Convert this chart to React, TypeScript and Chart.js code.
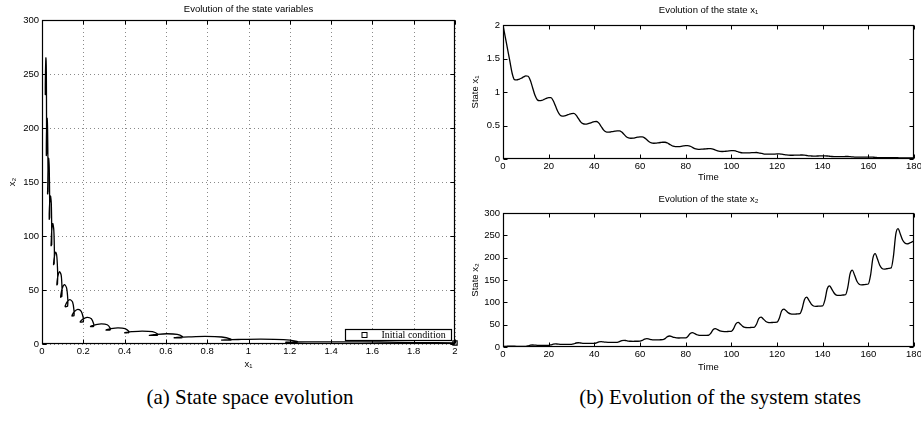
import React, { useEffect, useRef } from 'react';
import { Chart, registerables } from 'chart.js';

Chart.register(...registerables);

// ---------------- data (sampled once per time unit, t = 0 … 180) ----------------
const x1Values: number[] = [
  2.0, 1.82, 1.64, 1.46, 1.28, 1.185, 1.18, 1.19, 1.205, 1.225, 1.24,
  1.235, 1.17, 1.06, 0.95, 0.885, 0.87, 0.875, 0.89, 0.905, 0.915,
  0.915, 0.87, 0.79, 0.71, 0.655, 0.64, 0.645, 0.655, 0.668, 0.678,
  0.68, 0.655, 0.605, 0.555, 0.527, 0.52, 0.523, 0.535, 0.548, 0.558,
  0.56, 0.535, 0.485, 0.435, 0.407, 0.40, 0.403, 0.41, 0.416, 0.42,
  0.42, 0.402, 0.367, 0.333, 0.314, 0.31, 0.312, 0.318, 0.325, 0.33,
  0.33, 0.316, 0.287, 0.258, 0.24, 0.235, 0.236, 0.241, 0.246, 0.25,
  0.25, 0.239, 0.218, 0.198, 0.188, 0.185, 0.186, 0.19, 0.196, 0.20,
  0.20, 0.19, 0.173, 0.156, 0.148, 0.145, 0.146, 0.149, 0.152, 0.155,
  0.155, 0.148, 0.134, 0.121, 0.114, 0.112, 0.113, 0.117, 0.121, 0.124,
  0.125, 0.119, 0.108, 0.097, 0.092, 0.09, 0.09, 0.092, 0.094, 0.096,
  0.097, 0.093, 0.085, 0.077, 0.073, 0.072, 0.072, 0.073, 0.074, 0.075,
  0.076, 0.072, 0.066, 0.06, 0.057, 0.056, 0.056, 0.057, 0.058, 0.059,
  0.06, 0.057, 0.052, 0.047, 0.045, 0.044, 0.044, 0.045, 0.046, 0.047,
  0.047, 0.045, 0.041, 0.037, 0.035, 0.035, 0.035, 0.036, 0.036, 0.037,
  0.037, 0.035, 0.032, 0.029, 0.028, 0.027, 0.027, 0.028, 0.028, 0.029,
  0.029, 0.027, 0.025, 0.022, 0.021, 0.021, 0.021, 0.021, 0.022, 0.022,
  0.022, 0.021, 0.019, 0.017, 0.016, 0.016, 0.016, 0.016, 0.017, 0.017,
];

const x2Values: number[] = [
  1.0, 1.3, 1.85, 2.0, 1.9, 1.72, 1.6, 1.58, 1.58, 1.59, 1.6,
  2.47, 4.07, 4.5, 4.17, 3.79, 3.6, 3.55, 3.56, 3.58, 3.6,
  4.62, 6.49, 7.0, 6.55, 6.04, 5.78, 5.72, 5.73, 5.77, 5.8,
  6.91, 8.95, 9.5, 8.94, 8.3, 7.97, 7.9, 7.92, 7.96, 8.0,
  9.2, 11.4, 12.0, 11.42, 10.76, 10.42, 10.35, 10.38, 10.44, 10.5,
  11.85, 14.33, 15.0, 14.23, 13.35, 12.88, 12.8, 12.84, 12.92, 13.0,
  14.71, 17.85, 18.7, 17.77, 16.71, 16.15, 16.05, 16.1, 16.2, 16.3,
  18.79, 23.36, 24.6, 23.06, 21.3, 20.35, 20.2, 20.27, 20.4, 20.5,
  23.95, 30.28, 32.0, 29.87, 27.43, 26.1, 25.9, 26.0, 26.15, 26.3,
  30.71, 38.8, 41.0, 38.73, 36.13, 34.8, 34.5, 34.6, 34.8, 35.0,
  41.0, 52.0, 55.0, 50.9, 46.2, 43.7, 43.3, 43.5, 43.8, 44.0,
  50.9, 63.55, 67.0, 62.7, 57.8, 55.2, 54.7, 54.9, 55.2, 55.5,
  64.35, 80.6, 85.0, 81.0, 76.4, 74.0, 73.5, 73.7, 74.1, 74.5,
  85.6, 106.0, 111.5, 104.3, 96.1, 91.8, 91.0, 91.3, 91.7, 92.0,
  105.5, 130.25, 137.0, 129.5, 120.9, 116.3, 115.5, 115.8, 116.4, 117.0,
  133.5, 163.75, 172.0, 160.5, 147.25, 140.5, 139.0, 139.5, 140.3, 141.0,
  161.4, 198.8, 209.0, 196.9, 183.1, 176.0, 174.5, 175.2, 176.2, 177.0,
  203.4, 251.8, 265.0, 253.1, 239.5, 233.0, 231.0, 232.5, 235.0, 237.0,
];

const timeValues: number[] = x1Values.map((_, i) => i);

const titles = {
  phase: 'Evolution of the state variables',
  x1: 'Evolution of the state x\u2081',
  x2: 'Evolution of the state x\u2082',
};
const legendLabel = 'Initial condition';
const captions = ['(a) State space evolution', '(b) Evolution of the system states'];

// ---------------- styling helpers ----------------
const SANS = "'Liberation Sans', Arial, Helvetica, sans-serif";
const SERIF = "'Liberation Serif', 'Times New Roman', serif";
const FS = 9.5;

const matlabPlugin = {
  id: 'matlabBox',
  beforeDatasetsDraw(chart: any, _args: any, opts: any) {
    if (!opts || !opts.grid) return;
    const { ctx, chartArea: a, scales } = chart;
    ctx.save();
    ctx.strokeStyle = '#8a8a8a';
    ctx.lineWidth = 1;
    ctx.setLineDash([1, 3]);
    for (const t of scales.x.ticks) {
      const px = Math.round(scales.x.getPixelForValue(t.value)) + 0.5;
      ctx.beginPath();
      ctx.moveTo(px, a.top);
      ctx.lineTo(px, a.bottom);
      ctx.stroke();
    }
    for (const t of scales.y.ticks) {
      const py = Math.round(scales.y.getPixelForValue(t.value)) + 0.5;
      ctx.beginPath();
      ctx.moveTo(a.left, py);
      ctx.lineTo(a.right, py);
      ctx.stroke();
    }
    ctx.restore();
  },
  afterDatasetsDraw(chart: any) {
    const { ctx, chartArea: a, scales } = chart;
    const L = Math.round(a.left) + 0.5;
    const R = Math.round(a.right) - 0.5;
    const T = Math.round(a.top) + 0.5;
    const B = Math.round(a.bottom) - 0.5;
    const tl = 4;
    ctx.save();
    ctx.setLineDash([]);
    ctx.strokeStyle = '#000';
    ctx.lineWidth = 1;
    ctx.beginPath();
    for (const t of scales.x.ticks) {
      const px = Math.round(scales.x.getPixelForValue(t.value)) + 0.5;
      ctx.moveTo(px, B);
      ctx.lineTo(px, B - tl);
      ctx.moveTo(px, T);
      ctx.lineTo(px, T + tl);
    }
    for (const t of scales.y.ticks) {
      const py = Math.round(scales.y.getPixelForValue(t.value)) + 0.5;
      ctx.moveTo(L, py);
      ctx.lineTo(L + tl, py);
      ctx.moveTo(R, py);
      ctx.lineTo(R - tl, py);
    }
    ctx.stroke();
    ctx.lineWidth = 1.2;
    ctx.strokeRect(L, T, R - L, B - T);
    ctx.restore();
  },
  afterDraw(chart: any, _args: any, opts: any) {
    if (!opts || !opts.legend) return;
    const { ctx, chartArea: a } = chart;
    const w = 106;
    const h = 11;
    const lx = Math.round(a.right) - 110 + 0.5;
    const ly = Math.round(a.bottom) - 15 + 0.5;
    ctx.save();
    ctx.fillStyle = '#fff';
    ctx.fillRect(lx, ly, w, h);
    ctx.strokeStyle = '#000';
    ctx.lineWidth = 1.2;
    ctx.strokeRect(lx, ly, w, h);
    ctx.lineWidth = 1;
    ctx.strokeRect(lx + 16.5, ly + 3, 5, 5);
    ctx.fillStyle = '#000';
    ctx.font = `10px ${SERIF}`;
    ctx.textBaseline = 'middle';
    ctx.textAlign = 'left';
    ctx.fillText(opts.legend, lx + 36, ly + h / 2 + 0.5);
    ctx.restore();
  },
};

function tickFont() {
  return { family: SANS, size: FS };
}

function plainTick(value: any) {
  return String(Math.round(Number(value) * 1000) / 1000);
}

function makeAxes(opts: {
  xMin: number; xMax: number; xStep: number;
  yMin: number; yMax: number; yStep: number;
  yWidth: number; xHeight: number;
  xTitle: string; yTitle: string; xTitlePad: number; yTitlePad: number;
}) {
  return {
    x: {
      type: 'linear',
      min: opts.xMin,
      max: opts.xMax,
      grid: { display: false, drawTicks: false },
      border: { display: false },
      ticks: { stepSize: opts.xStep, color: '#000', font: tickFont(), padding: 2, maxRotation: 0, autoSkip: false, callback: plainTick },
      title: {
        display: true,
        text: opts.xTitle,
        color: '#000',
        font: { family: SANS, size: FS, lineHeight: '12px' },
        padding: { top: 0, bottom: opts.xTitlePad },
      },
      afterFit(scale: any) {
        scale.height = opts.xHeight;
        scale.paddingLeft = 0;
        scale.paddingRight = 0;
      },
    },
    y: {
      type: 'linear',
      min: opts.yMin,
      max: opts.yMax,
      grid: { display: false, drawTicks: false },
      border: { display: false },
      ticks: { stepSize: opts.yStep, color: '#000', font: tickFont(), padding: 3, autoSkip: false, callback: plainTick },
      title: {
        display: true,
        text: opts.yTitle,
        color: '#000',
        font: { family: SANS, size: FS, lineHeight: '12px' },
        padding: { top: opts.yTitlePad, bottom: 0 },
      },
      afterFit(scale: any) {
        scale.width = opts.yWidth;
        scale.paddingTop = 0;
        scale.paddingBottom = 0;
      },
    },
  };
}

function titleOpts(text: string, top: number, bottom: number) {
  return {
    display: true,
    text,
    fullSize: false,
    color: '#000',
    font: { family: SANS, size: FS, weight: 'normal', lineHeight: '12px' },
    padding: { top, bottom },
  };
}

function phaseConfig(): any {
  return {
    type: 'scatter',
    data: {
      datasets: [
        {
          label: 'trajectory',
          data: x1Values.map((v, i) => ({ x: v, y: x2Values[i] })),
          showLine: true,
          borderColor: '#000',
          borderWidth: 1.3,
          pointRadius: 0,
          tension: 0.3,
          fill: false,
        },
        {
          label: legendLabel,
          data: [{ x: x1Values[0], y: x2Values[0] }],
          showLine: false,
          pointStyle: 'rect',
          pointRadius: 3,
          borderColor: '#000',
          backgroundColor: 'rgba(0,0,0,0)',
          pointBorderWidth: 1.2,
          clip: false,
        },
      ],
    },
    options: {
      animation: false,
      responsive: false,
      maintainAspectRatio: false,
      devicePixelRatio: 1,
      layout: { padding: { left: 0, right: 7, top: 0, bottom: 0 } },
      events: [],
      plugins: {
        legend: { display: false },
        tooltip: { enabled: false },
        title: titleOpts(titles.phase, 3, 5),
        matlabBox: { grid: true, legend: legendLabel },
      },
      scales: makeAxes({
        xMin: 0, xMax: 2, xStep: 0.2,
        yMin: 0, yMax: 300, yStep: 50,
        yWidth: 42, xHeight: 34,
        xTitle: 'x\u2081', yTitle: 'x\u2082', xTitlePad: 8, yTitlePad: 6,
      }),
    },
    plugins: [matlabPlugin],
  };
}

function timeConfig(values: number[], title: string, yTitle: string, yMax: number, yStep: number,
  tTop: number, tBottom: number, xHeight: number): any {
  return {
    type: 'line',
    data: {
      datasets: [
        {
          label: yTitle,
          data: timeValues.map((t, i) => ({ x: t, y: values[i] })),
          borderColor: '#000',
          borderWidth: 1.3,
          pointRadius: 0,
          cubicInterpolationMode: 'monotone',
          fill: false,
        },
      ],
    },
    options: {
      animation: false,
      responsive: false,
      maintainAspectRatio: false,
      devicePixelRatio: 1,
      layout: { padding: { left: 0, right: 7, top: 0, bottom: 0 } },
      events: [],
      plugins: {
        legend: { display: false },
        tooltip: { enabled: false },
        title: titleOpts(title, tTop, tBottom),
        matlabBox: { grid: false },
      },
      scales: makeAxes({
        xMin: 0, xMax: 180, xStep: 20,
        yMin: 0, yMax, yStep,
        yWidth: 41, xHeight,
        xTitle: 'Time', yTitle, xTitlePad: 2, yTitlePad: 7,
      }),
    },
    plugins: [matlabPlugin],
  };
}

function ChartCanvas(props: { config: () => any; left: number; top: number; width: number; height: number }) {
  const ref = useRef<HTMLCanvasElement | null>(null);
  useEffect(() => {
    if (!ref.current) return;
    const chart = new Chart(ref.current, props.config());
    return () => chart.destroy();
  }, []);
  return (
    <canvas
      ref={ref}
      width={props.width}
      height={props.height}
      style={{ position: 'absolute', left: props.left, top: props.top, width: props.width, height: props.height }}
    />
  );
}

export default function App() {
  useEffect(() => {
    document.body.style.margin = '0';
    document.body.style.background = '#fff';
  }, []);
  const capStyle: React.CSSProperties = {
    position: 'absolute',
    top: 384,
    height: 26,
    lineHeight: '26px',
    fontFamily: SERIF,
    fontSize: 21,
    color: '#000',
    textAlign: 'center',
    whiteSpace: 'nowrap',
  };
  return (
    <div style={{ position: 'absolute', left: 0, top: 0, width: 921, height: 421, background: '#fff', overflow: 'hidden' }}>
      <ChartCanvas config={phaseConfig} left={0} top={0} width={462} height={378} />
      <ChartCanvas
        config={() => timeConfig(x1Values, titles.x1, 'State x\u2081', 2, 0.5, 4, 9, 26)}
        left={462} top={0} width={459} height={185}
      />
      <ChartCanvas
        config={() => timeConfig(x2Values, titles.x2, 'State x\u2082', 300, 50, 8, 8, 28)}
        left={462} top={185} width={459} height={190}
      />
      <div style={{ ...capStyle, left: 100, width: 300 }}>{captions[0]}</div>
      <div style={{ ...capStyle, left: 570, width: 300 }}>{captions[1]}</div>
    </div>
  );
}
